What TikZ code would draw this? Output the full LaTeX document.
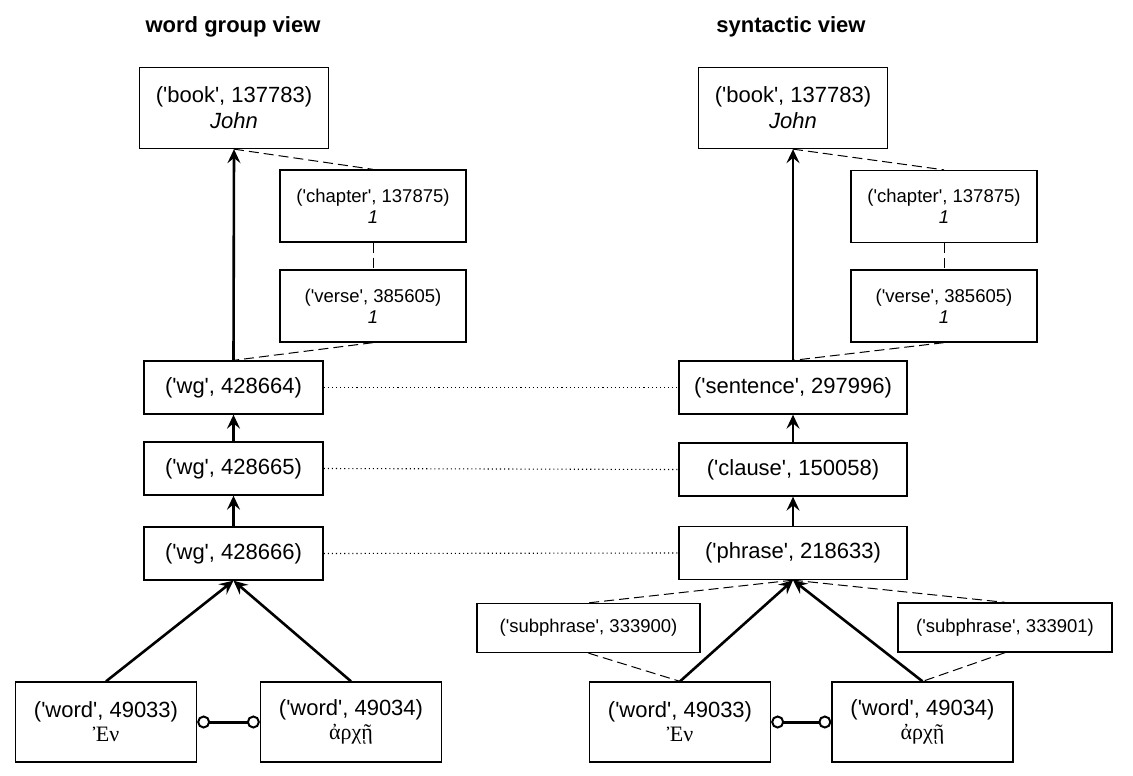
\documentclass[tikz,border=0pt]{standalone}
\usepackage{fontspec}
\setmainfont{Liberation Sans}[Ligatures=TeXOff]
\newfontfamily\greekfont{Liberation Serif}
\usetikzlibrary{arrows.meta}

\tikzset{
  box/.style={draw, line width=0.65pt, inner sep=0pt, align=center,
    font=\fontsize{11}{13}\selectfont},
  refbox/.style={box, minimum width=93pt, minimum height=36pt,
    font=\fontsize{9.25}{10.5}\selectfont},
  subbox/.style={box, minimum height=24.5pt, font=\fontsize{9.25}{10.5}\selectfont},
  midbox/.style={box, minimum height=26.5pt},
  wordbox/.style={box, minimum width=90.5pt, minimum height=40pt,
    font=\fontsize{11}{12}\selectfont},
  viewtitle/.style={font=\fontsize{11}{13}\selectfont\bfseries},
  up/.style={line width=1.3pt, -{Stealth[length=7pt,width=6.5pt,inset=2.6pt]}},
  part/.style={line width=0.5pt, dash pattern=on 5pt off 2.5pt},
  same/.style={line width=0.55pt, dash pattern=on 0.55pt off 1.5pt},
  adj/.style={line width=1.5pt,
    {Circle[open,length=6.5pt,line width=1pt]}-{Circle[open,length=6.5pt,line width=1pt]}},
}

\begin{document}
\begin{tikzpicture}[x=0.5pt, y=-0.5pt]
\useasboundingbox (0,0) rectangle (1133,775);

% Vue word group
\node[viewtitle] (tWG) at (233,27) {word group view};
\node[box, minimum width=94.5pt, minimum height=40.5pt] (bookL) at (234,108) {('book', 137783)\\\textit{John}};
\node[refbox] (chapL) at (373,206) {('chapter', 137875)\\\textit{1}};
\node[refbox] (verseL) at (373,306) {('verse', 385605)\\\textit{1}};
\node[midbox, minimum width=89.5pt] (wgA) at (233.5,387.5) {('wg', 428664)};
\node[midbox, minimum width=89.5pt] (wgB) at (233.5,468.5) {('wg', 428665)};
\node[midbox, minimum width=89.5pt] (wgC) at (233.5,553.5) {('wg', 428666)};
\node[wordbox] (wordL1) at (106,722) {('word', 49033)\\{\greekfont Ἐν}};
\node[wordbox] (wordL2) at (351,722) {('word', 49034)\\{\greekfont ἀρχῇ}};

% Vue syntaxique
\node[viewtitle] (tSY) at (791,27) {syntactic view};
\node[box, minimum width=94.5pt, minimum height=40.5pt] (bookR) at (793,108) {('book', 137783)\\\textit{John}};
\node[refbox] (chapR) at (944,206.5) {('chapter', 137875)\\\textit{1}};
\node[refbox] (verseR) at (944,306) {('verse', 385605)\\\textit{1}};
\node[midbox, minimum width=114pt] (sent) at (793,387.5) {('sentence', 297996)};
\node[midbox, minimum width=114pt] (clause) at (793,469.5) {('clause', 150058)};
\node[midbox, minimum width=114pt] (phrase) at (793,553) {('phrase', 218633)};
\node[subbox, minimum width=111.5pt] (subA) at (588.5,628) {('subphrase', 333900)};
\node[subbox, minimum width=107pt] (subB) at (1005,627.5) {('subphrase', 333901)};
\node[wordbox] (wordR1) at (680,722) {('word', 49033)\\{\greekfont Ἐν}};
\node[wordbox] (wordR2) at (922.5,722) {('word', 49034)\\{\greekfont ἀρχῇ}};

% Montée
\draw[up] (wgA.north) -- (bookL.south);
\draw[up] (wgB.north) -- (wgA.south);
\draw[up] (wgC.north) -- (wgB.south);
\draw[up] (wordL1.north) -- (wgC.south);
\draw[up] (wordL2.north) -- (wgC.south);
\draw[up] (sent.north) -- (bookR.south);
\draw[up] (clause.north) -- (sent.south);
\draw[up] (phrase.north) -- (clause.south);
\draw[up] (wordR1.north) -- (phrase.south);
\draw[up] (wordR2.north) -- (phrase.south);

% Livre, chapitre, verset
\draw[part] (bookL.south) -- (chapL.north);
\draw[part] (chapL.south) -- (verseL.north);
\draw[part] (verseL.south) -- (wgA.north);
\draw[part] (bookR.south) -- (chapR.north);
\draw[part] (chapR.south) -- (verseR.north);
\draw[part] (verseR.south) -- (sent.north);

% Sous-syntagmes
\draw[part] (phrase.south) -- (subA.north);
\draw[part] (phrase.south) -- (subB.north);
\draw[part] (subA.south) -- (wordR1.north);
\draw[part] (subB.south) -- (wordR2.north);

% Correspondances
\draw[same] (wgA.east) -- (sent.west);
\draw[same] (wgB.east) -- (clause.west);
\draw[same] (wgC.east) -- (phrase.west);

% Mots voisins
\draw[adj] (wordL1.east) -- (wordL2.west);
\draw[adj] (wordR1.east) -- (wordR2.west);

\end{tikzpicture}
\end{document}
